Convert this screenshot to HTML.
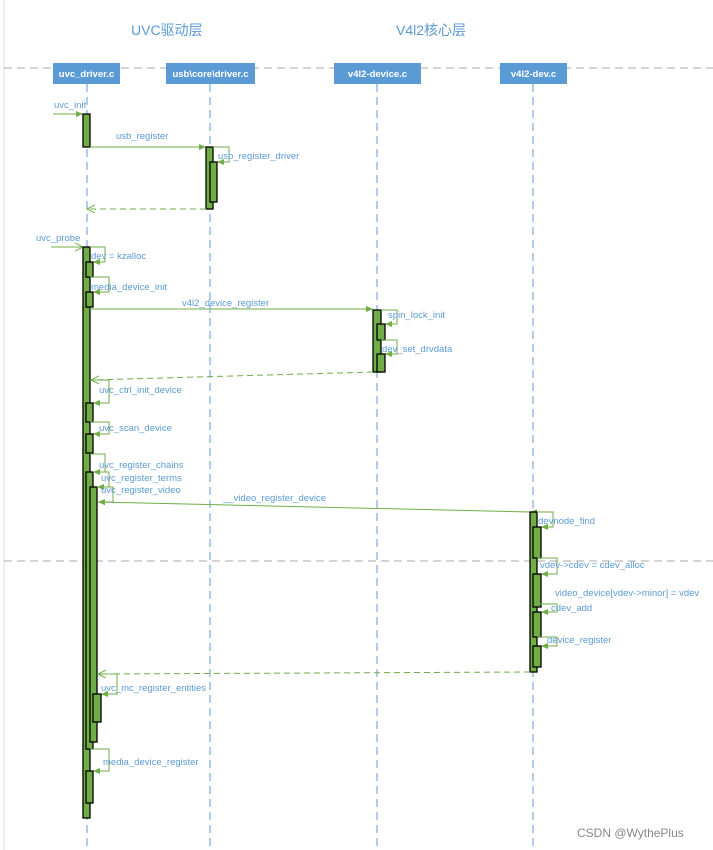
<!DOCTYPE html>
<html><head><meta charset="utf-8"><style>
html,body{margin:0;padding:0;background:#fff;width:713px;height:850px;overflow:hidden}
svg{display:block}
text{font-family:"Liberation Sans","Noto Sans CJK SC",sans-serif;font-size:9.5px;fill:#5b9bd5}
.h{fill:#fff;font-weight:bold;font-size:9.5px}
.act{fill:#70ad47;stroke:#000;stroke-width:1.3}
.m{stroke:#70ad47;stroke-width:1;fill:none}
.r{stroke:#70ad47;stroke-width:1;fill:none;stroke-dasharray:6,4}
.ll{stroke:#5b9bd5;stroke-width:1;stroke-dasharray:8,5}
</style></head><body>
<svg width="713" height="850" viewBox="0 0 713 850">
<defs>
<marker id="a" markerWidth="8" markerHeight="8" refX="7" refY="3" orient="auto" markerUnits="userSpaceOnUse"><path d="M0,0 L7,3 L0,6 z" fill="#70ad47"/></marker>
<marker id="o" markerWidth="9" markerHeight="9" refX="8" refY="4" orient="auto" markerUnits="userSpaceOnUse"><path d="M0,0 L8,4 L0,8" fill="none" stroke="#70ad47"/></marker>
</defs>
<line x1="4" y1="0" x2="4" y2="850" stroke="#ddd" stroke-width="1"/>
<line x1="4" y1="68" x2="713" y2="68" stroke="#aaa" stroke-dasharray="8,5"/>
<line x1="4" y1="561" x2="713" y2="561" stroke="#aaa" stroke-dasharray="8,5"/>
<text x="131" y="35" style="font-size:14px">UVC驱动层</text>
<text x="396" y="35" style="font-size:14px">V4l2核心层</text>
<!-- lifelines -->
<line class="ll" x1="87" y1="84" x2="87" y2="850"/>
<line class="ll" x1="210" y1="84" x2="210" y2="850"/>
<line class="ll" x1="377" y1="84" x2="377" y2="850"/>
<line class="ll" x1="533" y1="84" x2="533" y2="850"/>
<!-- headers -->
<rect x="53" y="63" width="67" height="21" fill="#5b9bd5"/><text class="h" x="86.5" y="77" text-anchor="middle">uvc_driver.c</text>
<rect x="166" y="63" width="89" height="21" fill="#5b9bd5"/><text class="h" x="210.5" y="77" text-anchor="middle">usb\core\driver.c</text>
<rect x="334" y="63" width="87" height="21" fill="#5b9bd5"/><text class="h" x="377.5" y="77" text-anchor="middle">v4l2-device.c</text>
<rect x="500" y="63" width="67" height="21" fill="#5b9bd5"/><text class="h" x="533.5" y="77" text-anchor="middle">v4l2-dev.c</text>

<!-- uvc_init -->
<line class="m" x1="53" y1="114" x2="83" y2="114" marker-end="url(#a)"/>
<text x="54" y="108">uvc_init</text>
<rect class="act" x="83" y="114" width="7" height="33"/>
<line class="m" x1="90" y1="147" x2="206" y2="147" marker-end="url(#a)"/>
<text x="116" y="139">usb_register</text>
<rect class="act" x="206" y="147" width="7" height="62"/>
<polyline class="m" points="213,147 229,147 229,162 217,162" marker-end="url(#a)"/>
<rect class="act" x="210" y="162" width="7" height="40"/>
<text x="218" y="159">usb_register_driver</text>
<line class="r" x1="206" y1="209" x2="87" y2="209" marker-end="url(#o)"/>

<!-- uvc_probe -->
<line class="m" x1="51" y1="247" x2="83" y2="247" marker-end="url(#o)"/>
<text x="36" y="241">uvc_probe</text>
<rect class="act" x="83" y="247" width="7" height="571"/>
<polyline class="m" points="90,247 105,247 105,262 93,262" marker-end="url(#a)"/>
<rect class="act" x="86" y="262" width="7" height="15"/>
<text x="91" y="259">dev = kzalloc</text>
<polyline class="m" points="90,277 109,277 109,292 93,292" marker-end="url(#a)"/>
<rect class="act" x="86" y="292" width="7" height="15"/>
<text x="91" y="290">media_device_init</text>
<line class="m" x1="90" y1="309" x2="373" y2="309" marker-end="url(#a)"/>
<text x="182" y="306">v4l2_device_register</text>
<rect class="act" x="373" y="310" width="8" height="62"/>
<polyline class="m" points="381,310 397,310 397,324 385,324" marker-end="url(#a)"/>
<rect class="act" x="377" y="324" width="8" height="16"/>
<text x="388" y="318">spin_lock_init</text>
<polyline class="m" points="381,340 397,340 397,354 385,354" marker-end="url(#a)"/>
<rect class="act" x="377" y="354" width="8" height="18"/>
<text x="382" y="352">dev_set_drvdata</text>
<line class="r" x1="373" y1="372" x2="91" y2="380" marker-end="url(#o)"/>
<polyline class="m" points="90,380 109,380 109,403 93,403" marker-end="url(#a)"/>
<rect class="act" x="86" y="403" width="7" height="19"/>
<text x="99" y="393">uvc_ctrl_init_device</text>
<polyline class="m" points="90,422 109,422 109,434 93,434" marker-end="url(#a)"/>
<rect class="act" x="86" y="434" width="7" height="19"/>
<text x="99" y="431">uvc_scan_device</text>
<polyline class="m" points="90,454 105,454 105,472 93,472" marker-end="url(#a)"/>
<rect class="act" x="86" y="472" width="7" height="277"/>
<text x="99" y="468">uvc_register_chains</text>
<polyline class="m" points="93,472 109,472 109,487 97,487" marker-end="url(#a)"/>
<rect class="act" x="90" y="487" width="7" height="255"/>
<text x="101" y="481">uvc_register_terms</text>
<polyline class="m" points="97,487 113,487 113,502 98,502" marker-end="url(#a)"/>
<text x="101" y="493">uvc_register_video</text>
<line class="m" x1="530" y1="512" x2="98" y2="502" marker-start="url(#a)" marker-end="url(#a)"/>
<text x="223" y="501">__video_register_device</text>

<rect class="act" x="530" y="512" width="7" height="160"/>
<polyline class="m" points="537,512 553,512 553,527 541,527" marker-end="url(#a)"/>
<rect class="act" x="533" y="527" width="8" height="31"/>
<text x="538" y="524">devnode_find</text>
<polyline class="m" points="537,558 557,558 557,574 541,574" marker-end="url(#a)"/>
<rect class="act" x="533" y="574" width="8" height="33"/>
<text x="540" y="568">vdev-&gt;cdev = cdev_alloc</text>
<text x="555" y="596">video_device[vdev-&gt;minor] = vdev</text>
<polyline class="m" points="537,604 557,604 557,612 541,612" marker-end="url(#a)"/>
<rect class="act" x="533" y="612" width="8" height="25"/>
<text x="551" y="611">cdev_add</text>
<polyline class="m" points="537,637 557,637 557,646 541,646" marker-end="url(#a)"/>
<rect class="act" x="533" y="646" width="8" height="21"/>
<text x="547" y="643">device_register</text>
<line class="r" x1="530" y1="672" x2="98" y2="674" marker-end="url(#o)"/>
<polyline class="m" points="97,674 117,674 117,694 101,694" marker-end="url(#a)"/>
<rect class="act" x="93" y="694" width="8" height="28"/>
<text x="101" y="691">uvc_mc_register_entities</text>
<polyline class="m" points="90,749 109,749 109,771 93,771" marker-end="url(#a)"/>
<rect class="act" x="86" y="771" width="7" height="32"/>
<text x="103" y="765">media_device_register</text>

<text x="577" y="837" style="fill:#888;font-size:12px">CSDN @WythePlus</text>
</svg>
</body></html>
